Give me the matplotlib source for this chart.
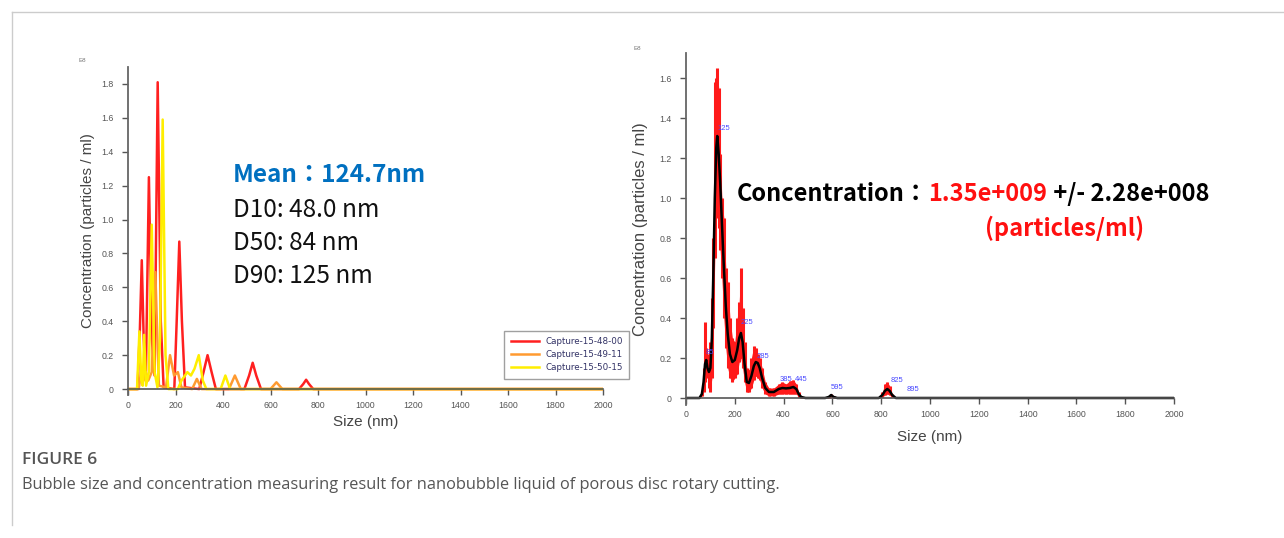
import matplotlib.pyplot as plt
from matplotlib.lines import Line2D

# left panel: three captures (size in nm, concentration in E8 particles/ml)
red_size = [0, 40, 50, 58, 66, 75, 88, 100, 112, 125, 138, 150, 195, 205,
            216, 227, 240, 300, 318, 335, 352, 370, 490, 510, 525, 540, 560,
            720, 738, 750, 762, 780, 2000]
red_conc = [0, 0, 0.35, 0.76, 0.30, 0.05, 1.25, 0.30, 0.08, 1.81, 0.40, 0.01,
            0, 0.40, 0.87, 0.40, 0.01, 0, 0.10, 0.20, 0.10, 0, 0, 0.08, 0.155,
            0.08, 0, 0, 0.03, 0.055, 0.03, 0, 0]
orange_size = [0, 45, 55, 65, 75, 85, 100, 115, 130, 160, 177, 194, 210, 225,
               270, 290, 310, 425, 450, 475, 600, 625, 650, 2000]
orange_conc = [0, 0, 0.10, 0.05, 0.10, 0.05, 0.10, 0.69, 0.02, 0.01, 0.20,
               0.08, 0.10, 0.01, 0, 0.06, 0, 0, 0.08, 0, 0, 0.04, 0, 0]
yellow_size = [0, 38, 48, 56, 62, 68, 76, 88, 100, 112, 124, 135, 146, 158,
               170, 210, 225, 250, 265, 280, 298, 315, 330, 390, 410, 430, 2000]
yellow_conc = [0, 0, 0.34, 0.05, 0.02, 0.32, 0.02, 0.10, 0.97, 0.10, 0.01,
               0.30, 1.59, 0.20, 0, 0, 0.05, 0.10, 0.08, 0.12, 0.20, 0.05, 0,
               0, 0.08, 0, 0]
captures = ['Capture-15-48-00', 'Capture-15-49-11', 'Capture-15-50-15']

# right panel: mean curve and error band
size_r = [0, 55, 65, 72, 78, 83, 88, 94, 100, 106, 112, 118, 124, 128, 134,
          140, 147, 155, 163, 171, 180, 190, 200, 210, 218, 225, 232, 240,
          249, 258, 268, 278, 286, 294, 302, 312, 325, 340, 360, 380, 395,
          410, 425, 440, 452, 462, 472, 490, 570, 585, 595, 605, 620, 790,
          805, 815, 825, 835, 845, 860, 2000]
mean_r = [0, 0, 0.02, 0.08, 0.17, 0.19, 0.15, 0.13, 0.15, 0.30, 0.62, 1.00,
          1.25, 1.31, 1.22, 1.08, 0.88, 0.66, 0.46, 0.32, 0.22, 0.18, 0.19,
          0.24, 0.30, 0.325, 0.28, 0.17, 0.08, 0.075, 0.11, 0.16, 0.18, 0.175,
          0.15, 0.10, 0.05, 0.03, 0.03, 0.045, 0.05, 0.048, 0.05, 0.055,
          0.045, 0.02, 0.005, 0, 0, 0.005, 0.015, 0.005, 0, 0, 0.015, 0.035,
          0.045, 0.035, 0.015, 0, 0]
hi_r = [0, 0, 0.03, 0.15, 0.38, 0.25, 0.22, 0.20, 0.28, 0.50, 0.80, 1.58,
        1.60, 1.65, 1.55, 1.22, 1.00, 0.90, 0.65, 0.58, 0.40, 0.30, 0.28,
        0.40, 0.48, 0.65, 0.45, 0.28, 0.15, 0.14, 0.20, 0.26, 0.25, 0.22,
        0.20, 0.15, 0.08, 0.05, 0.05, 0.07, 0.08, 0.07, 0.085, 0.09, 0.07,
        0.03, 0.01, 0, 0, 0.01, 0.02, 0.01, 0, 0, 0.03, 0.07, 0.08, 0.06,
        0.02, 0, 0]
lo_r = [0, 0, 0.01, 0.03, 0.08, 0.12, 0.10, 0.05, 0.03, 0.10, 0.35, 0.70,
        0.90, 0.95, 0.85, 0.74, 0.60, 0.40, 0.25, 0.15, 0.10, 0.08, 0.10,
        0.12, 0.18, 0.20, 0.15, 0.08, 0.03, 0.03, 0.05, 0.09, 0.11, 0.10,
        0.09, 0.05, 0.02, 0.01, 0.01, 0.02, 0.02, 0.02, 0.02, 0.02, 0.02,
        0.005, 0, 0, 0, 0, 0.005, 0, 0, 0, 0.005, 0.015, 0.02, 0.015, 0.005,
        0, 0]
peak_size = [80, 128, 225, 288, 385, 445, 595, 840, 905]
peak_y = [0.21, 1.33, 0.36, 0.19, 0.075, 0.075, 0.035, 0.07, 0.025]
peak_text = ['85', '125', '225', '285', '385', '445', '595', '825', '895']

x_ticks = list(range(0, 2001, 200))
left_yticks = [0, 0.2, 0.4, 0.6, 0.8, 1.0, 1.2, 1.4, 1.6, 1.8]
right_yticks = [0, 0.2, 0.4, 0.6, 0.8, 1.0, 1.2, 1.4, 1.6]

axis_font = 'Liberation Sans'
note_font = ['Noto Sans CJK TC', 'DejaVu Sans']


def style_axes(ax, yticks, ylim, ylabel_size, ylabel_pad):
    ax.set_xlim(0, 2000)
    ax.set_ylim(*ylim)
    for s in ['top', 'right']:
        ax.spines[s].set_visible(False)
    ax.spines['bottom'].set_position(('data', 0))
    ax.spines['bottom'].set_color('#555555')
    ax.spines['bottom'].set_linewidth(1.2)
    ax.spines['left'].set_color('#666666')
    ax.spines['left'].set_linewidth(1.3)
    ax.set_xticks(x_ticks)
    ax.set_yticks(yticks)
    ax.set_yticklabels(['0' if v == 0 else f'{v:.1f}' for v in yticks])
    ax.tick_params(length=4.5, width=1, color='#555555', labelsize=6.3,
                   labelcolor='#555555')
    ax.tick_params(axis='x', pad=4)
    ax.tick_params(axis='y', pad=6)
    for lab in ax.get_xticklabels() + ax.get_yticklabels():
        lab.set_family(axis_font)
    ax.set_ylabel('Concentration (particles / ml)', fontsize=ylabel_size,
                  color='#444444', family=axis_font, labelpad=ylabel_pad)


def main():
    fig = plt.figure(figsize=(12.84, 5.38), dpi=100)

    # frame around the figure block
    fig.add_artist(Line2D([12 / 1284, 1], [1 - 12 / 538, 1 - 12 / 538],
                          color='#cccccc', lw=1))
    fig.add_artist(Line2D([12 / 1284, 12 / 1284], [1 - 12 / 538, 1 - 525 / 538],
                          color='#cccccc', lw=1))

    # left
    ax1 = fig.add_axes([128 / 1284, 1 - 395 / 538, 475 / 1284, 328 / 538])
    style_axes(ax1, left_yticks, (-0.035, 1.9), 11, 4)
    ax1.plot(red_size, red_conc, color='#ff2020', lw=1.8, label=captures[0])
    ax1.plot(orange_size, orange_conc, color='#ff9a30', lw=1.8,
             label=captures[1])
    ax1.plot(yellow_size, yellow_conc, color='#ffee00', lw=1.8,
             label=captures[2])
    ax1.set_xlabel('Size (nm)', fontsize=11, color='#444444', family=axis_font)
    ax1.xaxis.set_label_coords(0.5, -0.062)
    leg = ax1.legend(loc='upper left', bbox_to_anchor=(500 / 1284, 1 - 327 / 538),
                     bbox_transform=fig.transFigure, fontsize=6.3,
                     frameon=True, fancybox=False, edgecolor='#888888',
                     handlelength=3.2, borderpad=0.7, labelspacing=0.45,
                     handletextpad=0.8)
    for t in leg.get_texts():
        t.set_color('#333366')
    fig.text(82 / 1284, 1 - 60 / 538, 'E8', fontsize=4.5, color='#777777',
             ha='center', va='center', family=axis_font)

    fig.text(233 / 1284, 1 - 175 / 538, 'Mean：124.7nm', fontsize=17.5,
             color='#0070c0', weight='bold', family=note_font, va='center')
    for i, s in enumerate(['D10: 48.0 nm', 'D50: 84 nm', 'D90: 125 nm']):
        fig.text(233 / 1284, 1 - (210 + 33 * i) / 538, s, fontsize=17.5,
                 color='#111111', family=note_font, va='center')

    # right
    ax2 = fig.add_axes([686 / 1284, 1 - 405 / 538, 488 / 1284, 352 / 538])
    style_axes(ax2, right_yticks, (-0.035, 1.725), 12, 8)
    ax2.fill_between(size_r, lo_r, hi_r, color='#ff1a1a', lw=0)
    ax2.vlines(size_r, lo_r, hi_r, color='#ff1a1a', lw=2.2)
    ax2.plot(size_r, mean_r, color='black', lw=1.8)
    for xs, ys, t in zip(peak_size, peak_y, peak_text):
        ax2.text(xs, ys, t, fontsize=5.5, color='#4a4aff', family=axis_font,
                 ha='left', va='bottom')
    ax2.set_xlabel('Size (nm)', fontsize=11, color='#444444', family=axis_font)
    ax2.xaxis.set_label_coords(0.5, -0.072)
    fig.text(637 / 1284, 1 - 48 / 538, 'E8', fontsize=4.5, color='#777777',
             ha='center', va='center', family=axis_font)

    t1 = fig.text(737 / 1284, 1 - 194 / 538, 'Concentration：', fontsize=17,
                  weight='bold', color='black', family=note_font, va='center')
    t2 = ax2.annotate('1.35e+009', xy=(1, 0), xycoords=t1, fontsize=17,
                      weight='bold', color='#ff1010', family=note_font,
                      va='bottom')
    ax2.annotate(' +/- 2.28e+008', xy=(1, 0), xycoords=t2, fontsize=17,
                 weight='bold', color='black', family=note_font, va='bottom')
    fig.text(1065 / 1284, 1 - 228 / 538, '(particles/ml)', fontsize=17,
             weight='bold', color='#ff1010', family=note_font, ha='center',
             va='center')

    # caption
    fig.text(22 / 1284, 1 - 460 / 538, 'FIGURE 6', fontsize=12.5,
             color='#555555', weight='semibold', family='Open Sans',
             va='center')
    fig.text(22 / 1284, 1 - 485 / 538,
             'Bubble size and concentration measuring result for nanobubble '
             'liquid of porous disc rotary cutting.', fontsize=11.8,
             color='#555555', family='Open Sans', va='center')

    plt.savefig('out.png', dpi=100)


if __name__ == "__main__":
    main()
